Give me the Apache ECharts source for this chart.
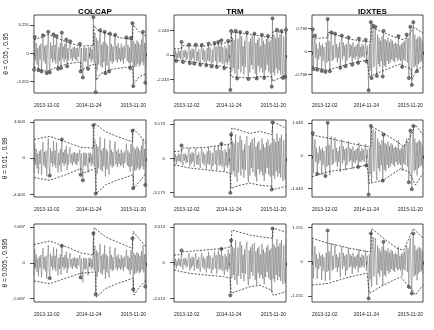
<!DOCTYPE html>
<html>
<head>
<meta charset="utf-8">
<script src="https://cdn.jsdelivr.net/npm/echarts@6/dist/echarts.min.js"></script>
<style>
html, body { margin: 0; padding: 0; background: #fff; }
#chart { width: 434px; height: 330px; }
</style>
</head>
<body>
<div id="chart"></div>
<script>
// ---- data ----
const nPts = 150;
const xTickIdx = [0, 73, 149];
const xTickLabels = ['2013-12-02', '2014-11-24', '2015-11-20'];
const assets = ['COLCAP', 'TRM', 'IDXTES'];
const thetaLabels = ['θ = 0.05 , 0.95', 'θ = 0.01 , 0.99', 'θ = 0.005 , 0.995'];
// y tick value per row (rows = theta), per column (asset)
const yTicks = [[3.255, 2.243, 0.738], [4.603, 3.173, 1.043], [5.097, 3.513, 1.155]];
const yRanges = [
  [[-4.6, 4.45], [-3.48, 3.66], [-1.33, 1.18]],
  [[-4.93, 4.88], [-3.59, 3.56], [-1.32, 1.14]],
  [[-5.6, 5.53], [-3.85, 3.79], [-1.36, 1.27]]
];

// returns
const colcap = [
  -1.9, 1.9, -0.8, 1.2, -1.3, 0.6, -1.95, 0.9, -0.7, 1.1,
  -2.1, 0.5, 2.1, -0.9, 0.8, -1.2, 1.0, -2.3, 0.6, 2.5,
  -1.0, -2.2, 1.3, -0.6, 0.9, -1.1, 2.2, -0.8, 1.0, -1.2,
  2.0, -0.5, -1.8, 0.7, -0.9, 1.2, -1.7, 2.4, -0.6, 0.8,
  -1.0, 1.1, -0.7, 1.6, -1.5, 0.6, -0.8, 0.9, 1.4, -0.6,
  0.5, -0.9, 0.7, -0.5, 0.8, -0.7, 0.6, -0.9, 0.7, -0.4,
  0.5, 1.1, -2.1, 0.6, -1.2, -2.8, 0.7, -0.9, 0.7, -1.0,
  0.6, -0.8, -1.8, 0.7, -0.6, 0.7, -1.0, 0.5, -0.7, 4.2,
  -1.1, 2.4, -4.5, 1.8, -2.0, 1.5, -1.3, 1.2, 2.7, -1.5,
  1.0, -1.7, 1.3, -1.0, 2.5, -2.3, 1.2, -1.4, 0.9, -1.1,
  -2.1, 2.3, -0.9, 1.1, -1.2, 0.8, -1.0, 1.3, 2.15, -0.8,
  0.9, -1.1, 1.2, -0.7, 0.6, -1.0, 1.1, -0.8, 0.7, -1.2,
  0.9, -0.6, 0.8, 1.85, -0.9, 1.0, -1.1, 0.7, -1.7, 1.8,
  -1.0, 3.5, -3.8, 1.4, -1.6, 1.1, -1.5, 1.5, -1.2, 1.3,
  -1.5, 1.0, -1.3, 1.6, -1.0, 2.5, -1.4, 1.2, -3.4, 1.3
];
const trm = [
  0.3, -0.2, 0.4, -0.55, 0.2, -0.3, 0.45, -0.25, 0.35, -0.4,
  1.2, -0.3, -0.65, 0.4, -0.2, 0.5, -0.45, 0.3, -0.35, 0.55,
  0.95, -0.75, 0.4, -0.5, 0.6, -0.3, 0.5, -0.8, 0.45, 0.95,
  -0.55, 0.3, -0.6, 0.55, -0.4, -0.9, 0.5, 0.92, -0.45, 0.6,
  -0.65, 0.4, -0.3, -0.95, 0.65, -0.5, 1.05, -0.6, 0.7, -0.4,
  -1.05, 0.5, -0.7, 0.6, 1.1, -0.55, 0.75, -1.1, 0.5, 1.2,
  -0.7, 0.8, -0.6, 1.35, -0.8, 0.7, -0.5, -1.2, 0.85, -0.7,
  0.6, -0.9, 1.3, -0.6, 0.9, -3.2, 2.2, -1.5, 1.6, -1.2,
  1.4, -1.7, 2.2, -0.9, -2.15, 1.5, -1.3, 1.1, 2.1, -1.6,
  1.7, -1.0, 0.8, -1.8, 1.3, -1.1, 1.6, 2.05, -1.4, -2.2,
  1.2, -1.6, 1.5, -0.9, 1.8, -1.3, 0.9, 1.95, -1.7, 1.1,
  -2.15, 1.4, -1.0, 1.6, -1.5, 0.8, -1.2, 1.85, -1.6, 1.3,
  -2.1, 1.0, -1.4, 1.5, -0.9, 1.75, -1.5, 1.2, -1.7, 1.4,
  -2.9, 3.35, -1.6, 1.8, -1.9, 1.5, -1.2, 2.3, -1.7, 1.6,
  -1.4, 1.9, -1.8, 2.2, -1.1, -2.1, 1.7, -1.5, -2.0, 2.3
];
const idxtes = [
  0.2, 0.72, -0.56, 0.15, 0.52, -0.2, 0.25, -0.58, 0.1, -0.25,
  0.3, -0.15, 0.2, -0.62, 0.25, -0.3, 0.15, -0.2, -0.65, 0.3,
  -0.35, 1.05, -0.3, 0.35, -0.63, 0.25, 0.62, -0.3, 0.2, -0.25,
  0.3, 0.58, -0.2, 0.25, -0.35, 0.15, -0.2, 0.3, -0.52, 0.2,
  0.52, -0.25, 0.3, -0.15, 0.2, -0.47, 0.25, -0.3, 0.15, 0.46,
  -0.2, 0.25, -0.15, 0.2, -0.42, 0.3, -0.2, 0.15, -0.25, 0.2,
  -0.15, 0.25, -0.36, 0.42, -0.2, 0.15, -0.2, 0.25, -0.15, 0.2,
  -0.2, 0.15, 0.38, -0.31, 0.2, -0.15, -1.24, 0.25, -0.6, 0.95,
  -0.85, 0.4, 0.84, -0.5, 0.3, 0.8, -0.45, -0.78, 0.55, -0.4,
  0.45, -0.5, 0.35, -0.3, 0.5, -0.8, 0.67, -0.45, 0.4, -0.5,
  0.35, -0.3, 0.45, -0.4, 0.3, -0.35, 0.4, -0.25, 0.35, -0.3,
  0.25, -0.35, 0.3, -0.2, 0.25, -0.3, 0.5, -0.25, 0.2, -0.3,
  0.25, -0.49, 0.3, -0.25, 0.35, -0.3, 0.4, 0.55, -0.35, 0.45,
  -0.85, 0.5, 0.8, -0.45, -1.07, 0.5, 0.95, -0.5, 0.55, -0.45,
  0.4, -0.63, 0.45, -0.4, 0.5, -0.35, 0.45, -0.3, 0.35, -0.4
];

// quantile bounds [index, value]
const colcapUpper05 = [[0,1.6],[12,1.9],[19,2.2],[30,1.8],[45,1.25],[61,0.85],[79,0.9],[80,3.2],[86,2.6],[100,2.2],[115,1.8],[131,1.6],[132,3.3],[140,2.5],[149,2.0]];
const colcapLower05 = [[0,-1.6],[17,-2.1],[30,-1.6],[45,-1.2],[62,-1.0],[63,-2.0],[72,-1.5],[82,-1.2],[83,-3.1],[88,-2.4],[100,-1.9],[131,-1.5],[133,-3.5],[140,-2.7],[149,-2.4]];
const colcapUpper01 = [[0,2.4],[21,2.8],[45,2.0],[62,1.4],[79,1.3],[80,4.5],[95,3.4],[110,2.8],[131,2.1],[132,3.8],[140,3.0],[149,1.9]];
const colcapLower01 = [[0,-2.45],[21,-2.8],[45,-2.0],[62,-1.3],[65,-1.9],[82,-1.3],[83,-4.5],[95,-3.4],[110,-2.8],[132,-2.1],[133,-3.8],[140,-3.0],[149,-1.9]];
const colcapUpper005 = [[0,2.6],[21,3.1],[45,2.2],[62,1.4],[79,1.1],[80,5.0],[95,3.7],[110,3.0],[131,2.05],[132,4.5],[140,3.4],[149,2.3]];
const colcapLower005 = [[0,-2.6],[21,-3.0],[45,-2.1],[62,-1.5],[82,-1.3],[83,-4.9],[95,-3.7],[110,-3.0],[132,-2.2],[133,-4.6],[140,-3.5],[149,-2.5]];

const trmUpper05 = [[0,0.55],[10,0.6],[11,0.85],[40,0.8],[63,1.05],[76,1.2],[77,2.1],[95,1.95],[110,1.8],[131,1.55],[132,2.2],[149,2.0]];
const trmLower05 = [[0,-0.45],[20,-0.6],[40,-0.8],[65,-1.05],[75,-1.2],[76,-2.0],[100,-2.1],[120,-1.95],[130,-2.0],[131,-2.4],[149,-1.85]];
const trmUpper01 = [[0,0.62],[10,0.7],[11,0.95],[40,1.0],[66,1.24],[76,1.35],[77,2.8],[88,2.6],[101,2.3],[114,2.5],[130,2.2],[132,3.4],[149,2.8]];
const trmLower01 = [[0,-0.6],[21,-0.9],[66,-1.24],[75,-1.4],[76,-2.8],[88,-2.5],[101,-2.3],[114,-2.5],[130,-2.6],[132,-2.9],[149,-2.6]];
const trmUpper005 = [[0,0.75],[10,0.8],[11,1.05],[66,1.4],[76,1.57],[77,3.2],[101,2.7],[114,2.55],[131,2.4],[132,3.37],[149,3.0]];
const trmLower005 = [[0,-0.72],[21,-1.05],[66,-1.37],[75,-1.5],[76,-3.0],[101,-2.35],[114,-2.2],[130,-2.7],[132,-3.2],[149,-2.85]];

const idxtesUpper05 = [[0,0.48],[7,0.43],[21,0.45],[22,0.62],[51,0.4],[74,0.32],[79,0.32],[80,0.8],[92,0.65],[110,0.48],[123,0.38],[132,0.6],[137,0.78],[149,0.6]];
const idxtesLower05 = [[0,-0.48],[20,-0.6],[51,-0.38],[74,-0.27],[76,-0.27],[77,-0.8],[97,-0.6],[118,-0.4],[127,-0.5],[133,-0.55],[134,-0.9],[140,-0.6],[149,-0.48]];
const idxtesUpper01 = [[0,0.66],[22,0.56],[51,0.4],[74,0.29],[79,0.29],[80,0.93],[96,0.72],[114,0.45],[123,0.29],[132,0.61],[139,0.98],[149,0.66]];
const idxtesLower01 = [[0,-0.67],[22,-0.51],[51,-0.41],[74,-0.3],[76,-0.3],[77,-0.89],[96,-0.78],[119,-0.41],[130,-0.51],[139,-0.94],[149,-0.57]];
const idxtesUpper005 = [[0,0.79],[22,0.62],[51,0.45],[74,0.34],[79,0.34],[80,1.12],[96,0.79],[114,0.45],[123,0.39],[136,1.12],[149,0.79]];
const idxtesLower005 = [[0,-0.79],[22,-0.73],[51,-0.51],[74,-0.39],[76,-0.39],[77,-1.07],[96,-0.79],[119,-0.51],[130,-0.84],[139,-1.12],[149,-0.79]];

// exceedance indices
const colcapHits05 = [0,1,6,10,12,17,19,21,26,30,32,36,37,43,44,48,61,62,65,72,79,82,88,94,95,100,101,108,123,128,129,131,132,145,148];
const colcapHits01 = [21,37,62,65,79,82,131,132,148];
const colcapHits005 = [21,37,62,79,82,131,132,148];
const trmHits05 = [3,10,12,20,21,27,29,35,37,43,46,50,54,57,59,63,67,72,75,76,82,84,88,97,99,107,110,117,120,125,130,131,137,143,145,148,149];
const trmHits01 = [10,63,75,76,130,131];
const trmHits005 = [10,63,75,76,131];
const idxtesHits05 = [1,2,4,7,13,18,21,24,26,31,38,40,45,49,54,62,63,72,73,76,79,80,82,85,87,95,96,116,121,127,130,132,134,136,141];
const idxtesHits01 = [1,7,18,21,62,73,76,79,95,96,130,132,134,136];
const idxtesHits005 = [21,76,79,96,130,134,136];

// ---- layout ----
const colLeft = [34, 174, 312];
const colWidth = [112, 112, 111];
const rowTop = [15, 120, 224];
const rowHeight = [78, 77, 78];
const font = 'Liberation Sans';

const returnsByCol = [colcap, trm, idxtes];
const upperBy = [[colcapUpper05, trmUpper05, idxtesUpper05], [colcapUpper01, trmUpper01, idxtesUpper01], [colcapUpper005, trmUpper005, idxtesUpper005]];
const lowerBy = [[colcapLower05, trmLower05, idxtesLower05], [colcapLower01, trmLower01, idxtesLower01], [colcapLower005, trmLower005, idxtesLower005]];
const hitsBy = [[colcapHits05, trmHits05, idxtesHits05], [colcapHits01, trmHits01, idxtesHits01], [colcapHits005, trmHits005, idxtesHits005]];

const grid = [], xAxis = [], yAxis = [], series = [];
for (let r = 0; r < 3; r++) {
  for (let c = 0; c < 3; c++) {
    const k = r * 3 + c;
    const t = yTicks[r][c];
    const ret = returnsByCol[c];
    grid.push({
      left: colLeft[c], top: rowTop[r], width: colWidth[c], height: rowHeight[r],
      show: true, borderColor: '#222', borderWidth: 0.8, backgroundColor: 'transparent'
    });
    xAxis.push({
      gridIndex: k, type: 'value', min: 0, max: nPts - 1,
      axisLine: { show: false },
      axisTick: { show: true, customValues: xTickIdx, length: 3, lineStyle: { color: '#222', width: 0.8 } },
      axisLabel: {
        customValues: xTickIdx,
        formatter: v => xTickLabels[xTickIdx.indexOf(v)] || '',
        fontSize: 5, color: '#222', fontFamily: font, margin: 10,
        alignMinLabel: 'left', alignMaxLabel: 'right'
      },
      splitLine: { show: false }
    });
    yAxis.push({
      gridIndex: k, type: 'value', min: yRanges[r][c][0], max: yRanges[r][c][1],
      axisLine: { show: false },
      axisTick: { show: true, customValues: [-t, 0, t], length: 4, lineStyle: { color: '#222', width: 0.8 } },
      axisLabel: {
        customValues: [-t, 0, t],
        formatter: v => (v === 0 ? '0' : v.toFixed(3)),
        fontSize: 4.3, color: '#222', fontFamily: font, margin: r === 0 ? 5 : 9
      },
      splitLine: { show: false },
      name: c === 0 ? thetaLabels[r] : '',
      nameLocation: 'middle', nameRotate: 90, nameGap: 24,
      nameTextStyle: { fontSize: 6.5, color: '#111', fontFamily: font }
    });
    series.push({
      type: 'line', xAxisIndex: k, yAxisIndex: k,
      data: ret.map((v, i) => [i, v]),
      symbol: 'none', silent: true,
      lineStyle: { color: '#666', width: 0.5 }
    });
    series.push({
      type: 'line', xAxisIndex: k, yAxisIndex: k,
      data: upperBy[r][c], symbol: 'none', silent: true,
      lineStyle: { color: '#111', width: 0.7, type: [2, 1.5] }
    });
    series.push({
      type: 'line', xAxisIndex: k, yAxisIndex: k,
      data: lowerBy[r][c], symbol: 'none', silent: true,
      lineStyle: { color: '#111', width: 0.7, type: [2, 1.5] }
    });
    series.push({
      type: 'scatter', xAxisIndex: k, yAxisIndex: k,
      data: hitsBy[r][c].map(i => [i, ret[i]]),
      symbolSize: 3.2, silent: true,
      itemStyle: { color: '#7a7a7a', borderColor: '#333', borderWidth: 0.5, opacity: 1 }
    });
  }
}

const chart = echarts.init(document.getElementById('chart'));
chart.setOption({
  animation: false,
  backgroundColor: '#fff',
  title: assets.map((a, c) => ({
    text: a, left: colLeft[c] + colWidth[c] / 2, top: 3, textAlign: 'center',
    textStyle: { fontSize: 8, fontWeight: 'bold', color: '#000', fontFamily: font }
  })),
  grid: grid,
  xAxis: xAxis,
  yAxis: yAxis,
  series: series
});
</script>
</body>
</html>
